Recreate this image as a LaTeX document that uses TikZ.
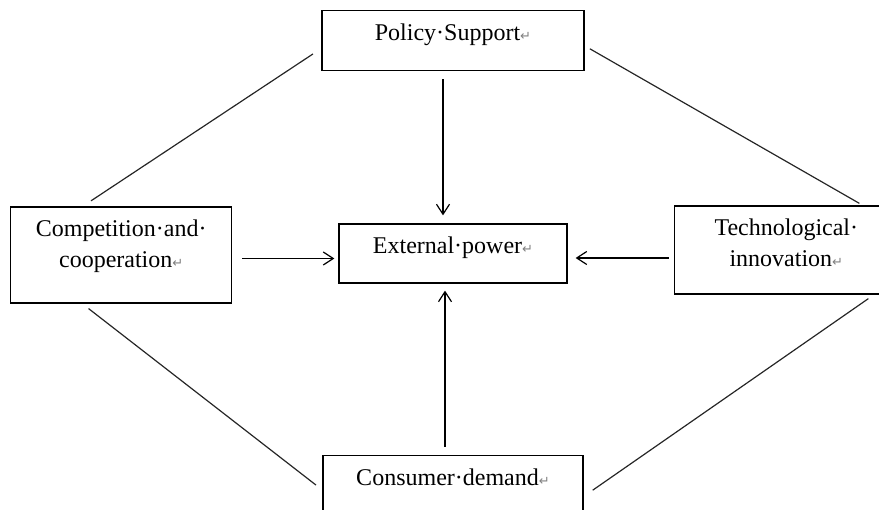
\documentclass[tikz,border=0pt]{standalone}
\usepackage{fontspec}
\setmainfont{Liberation Serif}
\newfontfamily\markfont{DejaVu Sans}
\usetikzlibrary{positioning,arrows.meta}

\newcommand{\retmark}{{\markfont\fontsize{13}{13}\selectfont\color{gray}↵}}

\tikzset{
  box/.style={draw, line width=1.3pt, inner sep=0pt, font=\fontsize{24}{31}\selectfont},
  arr/.style={-{Straight Barb[length=10pt,width=13pt]}, line width=1.2pt},
  link/.style={line width=1.2pt, draw=black!85}
}

\begin{document}
\begin{tikzpicture}[x=1pt, y=-1pt]
  \useasboundingbox (0,0) rectangle (879,510);

  \node[box, minimum width=228pt, text height=29.5pt, text depth=29.5pt] (ep) at (453,253.5) {External·power\retmark};
  \node[box, minimum width=262pt, text height=30pt, text depth=30pt] (ps) [above=152pt of ep] {Policy·Support\retmark};
  \node[box, minimum width=221pt, text height=61pt, text depth=35pt, align=center] (cc) [left=106pt of ep, yshift=-1.5pt] {Competition·and·\\cooperation\retmark};
  \node[box, minimum width=224pt, text height=61pt, text depth=27pt, align=center] (ti) [right=106pt of ep, yshift=3.5pt] {Technological·\\innovation\retmark};
  \node[box, minimum width=260pt, text height=30pt, text depth=30pt] (cd) [below=171pt of ep] {Consumer·demand\retmark};

  \path[arr]
    ([xshift=-10pt]ps.south) edge [shorten <=8pt, shorten >=8pt] ([xshift=-10pt]ep.north)
    ([yshift=-3.5pt]cc.east) edge [shorten <=10pt, shorten >=4pt] ([yshift=-5pt]ep.west)
    ([yshift=-8pt]ti.west) edge [shorten <=5pt, shorten >=8pt] ([yshift=-4.5pt]ep.east)
    ([xshift=-8pt]cd.north) edge [shorten <=8pt, shorten >=7pt] ([xshift=-8pt]ep.south);

  \path[link]
    ([xshift=-38.5pt]cc.north) edge [shorten <=10pt, shorten >=10pt] ([yshift=-7.7pt]ps.west)
    ([yshift=-5.1pt]ps.east) edge [shorten <=6pt, shorten >=4pt] ([xshift=76.5pt]ti.north)
    ([xshift=-39pt]cc.south) edge [shorten <=8pt, shorten >=8pt] ([yshift=-4.7pt]cd.west)
    ([xshift=87.8pt]ti.south) edge [shorten <=7pt, shorten >=11pt] ([yshift=-11.2pt]cd.east);

\end{tikzpicture}
\end{document}
